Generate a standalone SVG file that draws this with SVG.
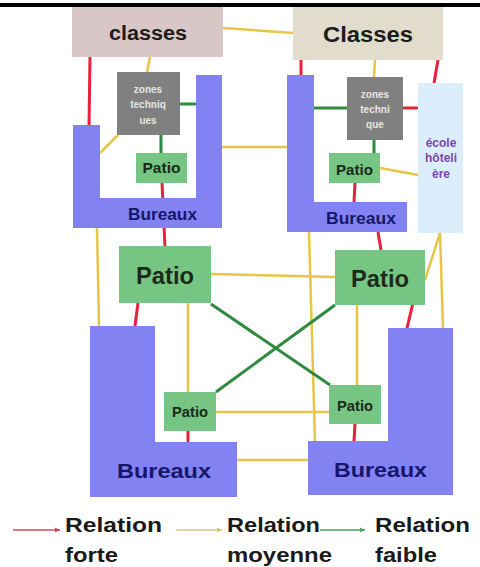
<svg xmlns="http://www.w3.org/2000/svg" width="480" height="567" viewBox="0 0 480 567">
<style>
text{font-family:"Liberation Sans",Arial,sans-serif;font-weight:bold;text-anchor:middle}
.bur{fill:#8282f2}
.pat{fill:#77c583}
.zon{fill:#808080}
.r{stroke:#e8203a;stroke-width:3;fill:none}
.y{stroke:#e6c547;stroke-width:2.5;fill:none}
.g{stroke:#2e8b3e;stroke-width:3;fill:none}
.bt{fill:#16166b}
.pt{fill:#1b2a1b}
.zt{fill:#e6e6e6;font-size:10px}
.et{fill:#7a48a8;font-size:12px}
.lg{fill:#1a1a1a;font-size:21px;text-anchor:start}
</style>
<defs>
<marker id="mr" markerWidth="6" markerHeight="6" refX="5" refY="3" orient="auto" markerUnits="userSpaceOnUse"><path d="M0,0.5 L5,3 L0,5.5 Z" fill="#d04858"/></marker>
<marker id="my" markerWidth="6" markerHeight="6" refX="5" refY="3" orient="auto" markerUnits="userSpaceOnUse"><path d="M0,0.5 L5,3 L0,5.5 Z" fill="#d8c888"/></marker>
<marker id="mg" markerWidth="6" markerHeight="6" refX="5" refY="3" orient="auto" markerUnits="userSpaceOnUse"><path d="M0,0.5 L5,3 L0,5.5 Z" fill="#4ea05a"/></marker>
</defs>
<rect x="0" y="3" width="480" height="4" fill="#000"/>
<g id="connectors">
<line class="r" x1="90" y1="57" x2="89" y2="125"/>
<line class="y" x1="150" y1="57" x2="147" y2="72"/>
<line class="y" x1="118" y1="135" x2="100" y2="153"/>
<line class="g" x1="180" y1="104" x2="196" y2="104"/>
<line class="g" x1="161" y1="135" x2="161" y2="153"/>
<line class="r" x1="162" y1="183" x2="165" y2="247"/>
<line class="y" x1="223" y1="28" x2="293" y2="33"/>
<line class="y" x1="222" y1="147" x2="287" y2="147"/>
<line class="r" x1="301" y1="60" x2="301" y2="75"/>
<line class="y" x1="375" y1="60" x2="374" y2="77"/>
<line class="r" x1="438" y1="60" x2="434" y2="83"/>
<line class="g" x1="314" y1="108" x2="347" y2="108"/>
<line class="r" x1="403" y1="108" x2="418" y2="108"/>
<line class="g" x1="374" y1="140" x2="374" y2="153"/>
<line class="y" x1="380" y1="168" x2="418" y2="175"/>
<line class="r" x1="355" y1="183" x2="354" y2="202"/>
<line class="r" x1="378" y1="232" x2="381" y2="250"/>
<line class="y" x1="97" y1="228" x2="99" y2="326"/>
<line class="y" x1="309" y1="232" x2="315" y2="441"/>
<line class="y" x1="440" y1="233" x2="425" y2="280"/>
<line class="y" x1="440" y1="233" x2="443" y2="328"/>
<line class="r" x1="138" y1="303" x2="135" y2="326"/>
<line class="y" x1="211" y1="274" x2="335" y2="277"/>
<line class="g" x1="211" y1="304" x2="330" y2="385"/>
<line class="g" x1="335" y1="305" x2="216" y2="392"/>
<line class="y" x1="188" y1="303" x2="188" y2="392"/>
<line class="y" x1="357" y1="305" x2="357" y2="385"/>
<line class="r" x1="413" y1="303" x2="407" y2="328"/>
<line class="y" x1="216" y1="412" x2="329" y2="412"/>
<line class="r" x1="188" y1="431" x2="188" y2="442"/>
<line class="r" x1="355" y1="424" x2="354" y2="441"/>
<line class="y" x1="237" y1="460" x2="308" y2="460"/>
</g>
<g id="classes-left">
<rect x="72" y="7" width="151" height="50" fill="#d9c6c6"/>
<text x="148" y="40" font-size="20" fill="#1c1c1c" textLength="78" lengthAdjust="spacingAndGlyphs">classes</text>
</g>
<g id="classes-right">
<rect x="293" y="7" width="150" height="53" fill="#e1dccb"/>
<text x="368" y="42" font-size="22" fill="#1c1c1c" textLength="90" lengthAdjust="spacingAndGlyphs">Classes</text>
</g>
<g id="bureaux-top-left">
<path class="bur" d="M73,125 H100 V198 H196 V75 H222 V228 H73 Z"/>
<text class="bt" x="162.5" y="220" font-size="17" textLength="69" lengthAdjust="spacingAndGlyphs">Bureaux</text>
</g>
<g id="zones-left">
<rect class="zon" x="117" y="72" width="63" height="63"/>
<text class="zt" x="148" y="93">zones</text>
<text class="zt" x="148" y="108">techniq</text>
<text class="zt" x="148" y="124">ues</text>
</g>
<g id="patio-top-left">
<rect class="pat" x="136" y="153" width="51" height="30"/>
<text class="pt" x="161.5" y="173" font-size="15" textLength="38" lengthAdjust="spacingAndGlyphs">Patio</text>
</g>
<g id="bureaux-top-right">
<path class="bur" d="M287,75 H314 V202 H407 V232 H287 Z"/>
<text class="bt" x="361" y="224" font-size="17" textLength="70" lengthAdjust="spacingAndGlyphs">Bureaux</text>
</g>
<g id="zones-right">
<rect class="zon" x="347" y="77" width="56" height="63"/>
<text class="zt" x="375" y="98">zones</text>
<text class="zt" x="375" y="113">techni</text>
<text class="zt" x="375" y="128">que</text>
</g>
<g id="patio-top-right">
<rect class="pat" x="329" y="153" width="51" height="30"/>
<text class="pt" x="354.5" y="175" font-size="15" textLength="37" lengthAdjust="spacingAndGlyphs">Patio</text>
</g>
<g id="ecole-hoteliere">
<rect x="418" y="83" width="45" height="150" fill="#dcedfb"/>
<text class="et" x="441" y="147">école</text>
<text class="et" x="441" y="162">hôteli</text>
<text class="et" x="441" y="178">ère</text>
</g>
<g id="patio-big-left">
<rect class="pat" x="119" y="246" width="92" height="57"/>
<text class="pt" x="165" y="284" font-size="24" textLength="58" lengthAdjust="spacingAndGlyphs">Patio</text>
</g>
<g id="patio-big-right">
<rect class="pat" x="335" y="250" width="90" height="55"/>
<text class="pt" x="380" y="287" font-size="24" textLength="58" lengthAdjust="spacingAndGlyphs">Patio</text>
</g>
<g id="bureaux-bottom-left">
<path class="bur" d="M90,326 H155 V442 H237 V497 H90 Z"/>
<text class="bt" x="164" y="478" font-size="21" textLength="94" lengthAdjust="spacingAndGlyphs">Bureaux</text>
</g>
<g id="bureaux-bottom-right">
<path class="bur" d="M388,328 H453 V495 H308 V441 H388 Z"/>
<text class="bt" x="380.5" y="477" font-size="21" textLength="93" lengthAdjust="spacingAndGlyphs">Bureaux</text>
</g>
<g id="patio-small-left">
<rect class="pat" x="164" y="392" width="52" height="39"/>
<text class="pt" x="190" y="417" font-size="14.5" textLength="36" lengthAdjust="spacingAndGlyphs">Patio</text>
</g>
<g id="patio-small-right">
<rect class="pat" x="329" y="385" width="52" height="39"/>
<text class="pt" x="355" y="411" font-size="14.5" textLength="36" lengthAdjust="spacingAndGlyphs">Patio</text>
</g>
<g id="legend">
<line x1="13" y1="530" x2="60" y2="530" stroke="#d04858" stroke-width="1.5" marker-end="url(#mr)"/>
<text class="lg" x="65" y="532" textLength="97" lengthAdjust="spacingAndGlyphs">Relation</text>
<text class="lg" x="65" y="562" textLength="53" lengthAdjust="spacingAndGlyphs">forte</text>
<line x1="176" y1="530" x2="222" y2="530" stroke="#d8c888" stroke-width="1.5" marker-end="url(#my)"/>
<text class="lg" x="227" y="532" textLength="93" lengthAdjust="spacingAndGlyphs">Relation</text>
<text class="lg" x="227" y="562" textLength="105" lengthAdjust="spacingAndGlyphs">moyenne</text>
<line x1="320" y1="530" x2="365" y2="530" stroke="#4ea05a" stroke-width="1.5" marker-end="url(#mg)"/>
<text class="lg" x="375" y="532" textLength="95" lengthAdjust="spacingAndGlyphs">Relation</text>
<text class="lg" x="375" y="562" textLength="62" lengthAdjust="spacingAndGlyphs">faible</text>
</g>
</svg>
